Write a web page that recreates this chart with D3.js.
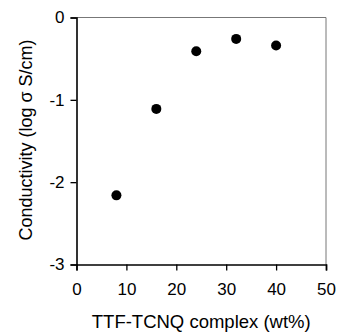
<!DOCTYPE html>
<html>
<head>
<meta charset="utf-8">
<script src="https://cdn.jsdelivr.net/npm/d3@7"></script>
<style>
  body { margin: 0; background: #fff; }
  svg { font-family: "Liberation Sans", Arial, sans-serif; }
</style>
</head>
<body>
<svg id="chart"></svg>
<script>
var wtPercent = [8, 16, 24, 32, 40];
var logSigma = [-2.16, -1.11, -0.41, -0.26, -0.34];
var xTicks = [0, 10, 20, 30, 40, 50];
var yTicks = [0, -1, -2, -3];

var margin = {top: 17.5, right: 11, bottom: 67.5, left: 76.5};
var width  = 337 - margin.left - margin.right;
var height = 332 - margin.top - margin.bottom;

var x = d3.scaleLinear().domain([0, 50]).range([0, width]);
var y = d3.scaleLinear().domain([-3, 0]).range([height, 0]);

var svg = d3.select("#chart")
  .attr("width", 337)
  .attr("height", 332)
  .append("g")
  .attr("transform", "translate(" + margin.left + "," + margin.top + ")");

// frame: thin grey top and right
svg.append("path")
  .attr("d", "M0,0H" + width + "V" + height)
  .attr("fill", "none")
  .attr("stroke", "#777")
  .attr("stroke-width", 1);

var xAxis = svg.append("g")
  .attr("transform", "translate(0," + height + ")")
  .call(d3.axisBottom(x).tickValues(xTicks).tickSize(6).tickPadding(12).tickFormat(d3.format("d")));

var yAxis = svg.append("g")
  .call(d3.axisLeft(y).tickValues(yTicks).tickSize(6).tickPadding(6).tickFormat(function(d) { return String(d); }));

[xAxis, yAxis].forEach(function(a) {
  a.select(".domain").attr("stroke", "#000").attr("stroke-width", 1.6);
  a.selectAll(".tick line").attr("stroke", "#000").attr("stroke-width", 1.3);
  a.selectAll(".tick text").attr("font-size", 17).attr("fill", "#000")
    .style("font-family", "Liberation Sans, Arial, sans-serif");
});

svg.selectAll("circle")
  .data(wtPercent)
  .enter()
  .append("circle")
  .attr("cx", function(d) { return x(d); })
  .attr("cy", function(d, i) { return y(logSigma[i]); })
  .attr("r", 5)
  .attr("fill", "#000");

svg.append("text")
  .attr("transform", "rotate(-90)")
  .attr("x", -height / 2 + 1)
  .attr("y", -margin.left + 32)
  .attr("text-anchor", "middle")
  .attr("font-size", 18)
  .text("Conductivity (log σ S/cm)");

svg.append("text")
  .attr("x", width / 2)
  .attr("y", height + 63.5)
  .attr("text-anchor", "middle")
  .attr("font-size", 18.5)
  .text("TTF-TCNQ complex (wt%)");
</script>
</body>
</html>
